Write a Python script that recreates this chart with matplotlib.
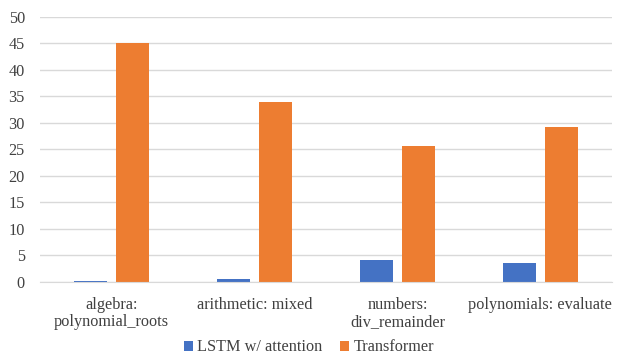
import numpy as np
import matplotlib
matplotlib.use('Agg')
from matplotlib import pyplot as plt

categories = ['algebra:\npolynomial_roots', 'arithmetic: mixed', 'numbers:\ndiv_remainder', 'polynomials: evaluate']
lstm = [0.1, 0.5, 4.2, 3.5]
transformer = [45.0, 34.0, 25.6, 29.2]

plt.rcParams['font.family'] = ['Liberation Serif', 'DejaVu Serif']

fig = plt.figure(figsize=(6.18, 3.6), dpi=100)
ax = fig.add_axes([0.065, 0.217, 0.925, 0.736])

x = np.arange(len(categories))
w = 0.23
ax.bar(x - 0.145, lstm, w, color='#4472C4', label='LSTM w/ attention', zorder=3)
ax.bar(x + 0.145, transformer, w, color='#ED7D31', label='Transformer', zorder=3)

ax.set_xlim(-0.5, 3.5)
ax.set_ylim(0, 50)
ax.set_yticks(range(0, 51, 5))
ax.set_xticks(x)
ax.set_xticklabels(categories, fontsize=11.7, color='#404040', linespacing=1.05)
ax.tick_params(axis='y', labelsize=11.7, labelcolor='#404040', length=0, pad=11)
ax.tick_params(axis='x', length=0, pad=11)
ax.grid(axis='y', color='#D9D9D9', linewidth=1, zorder=0)
for s in ['top', 'right', 'left']:
    ax.spines[s].set_visible(False)
ax.spines['bottom'].set_color('#D9D9D9')
ax.spines['bottom'].set_zorder(4)

fig.legend(loc='lower center', bbox_to_anchor=(0.5, -0.028), ncol=2, frameon=False,
           fontsize=11.7, handlelength=0.55, handleheight=0.55, handletextpad=0.25,
           columnspacing=1.1, labelcolor='#404040')

plt.savefig('out.png')
